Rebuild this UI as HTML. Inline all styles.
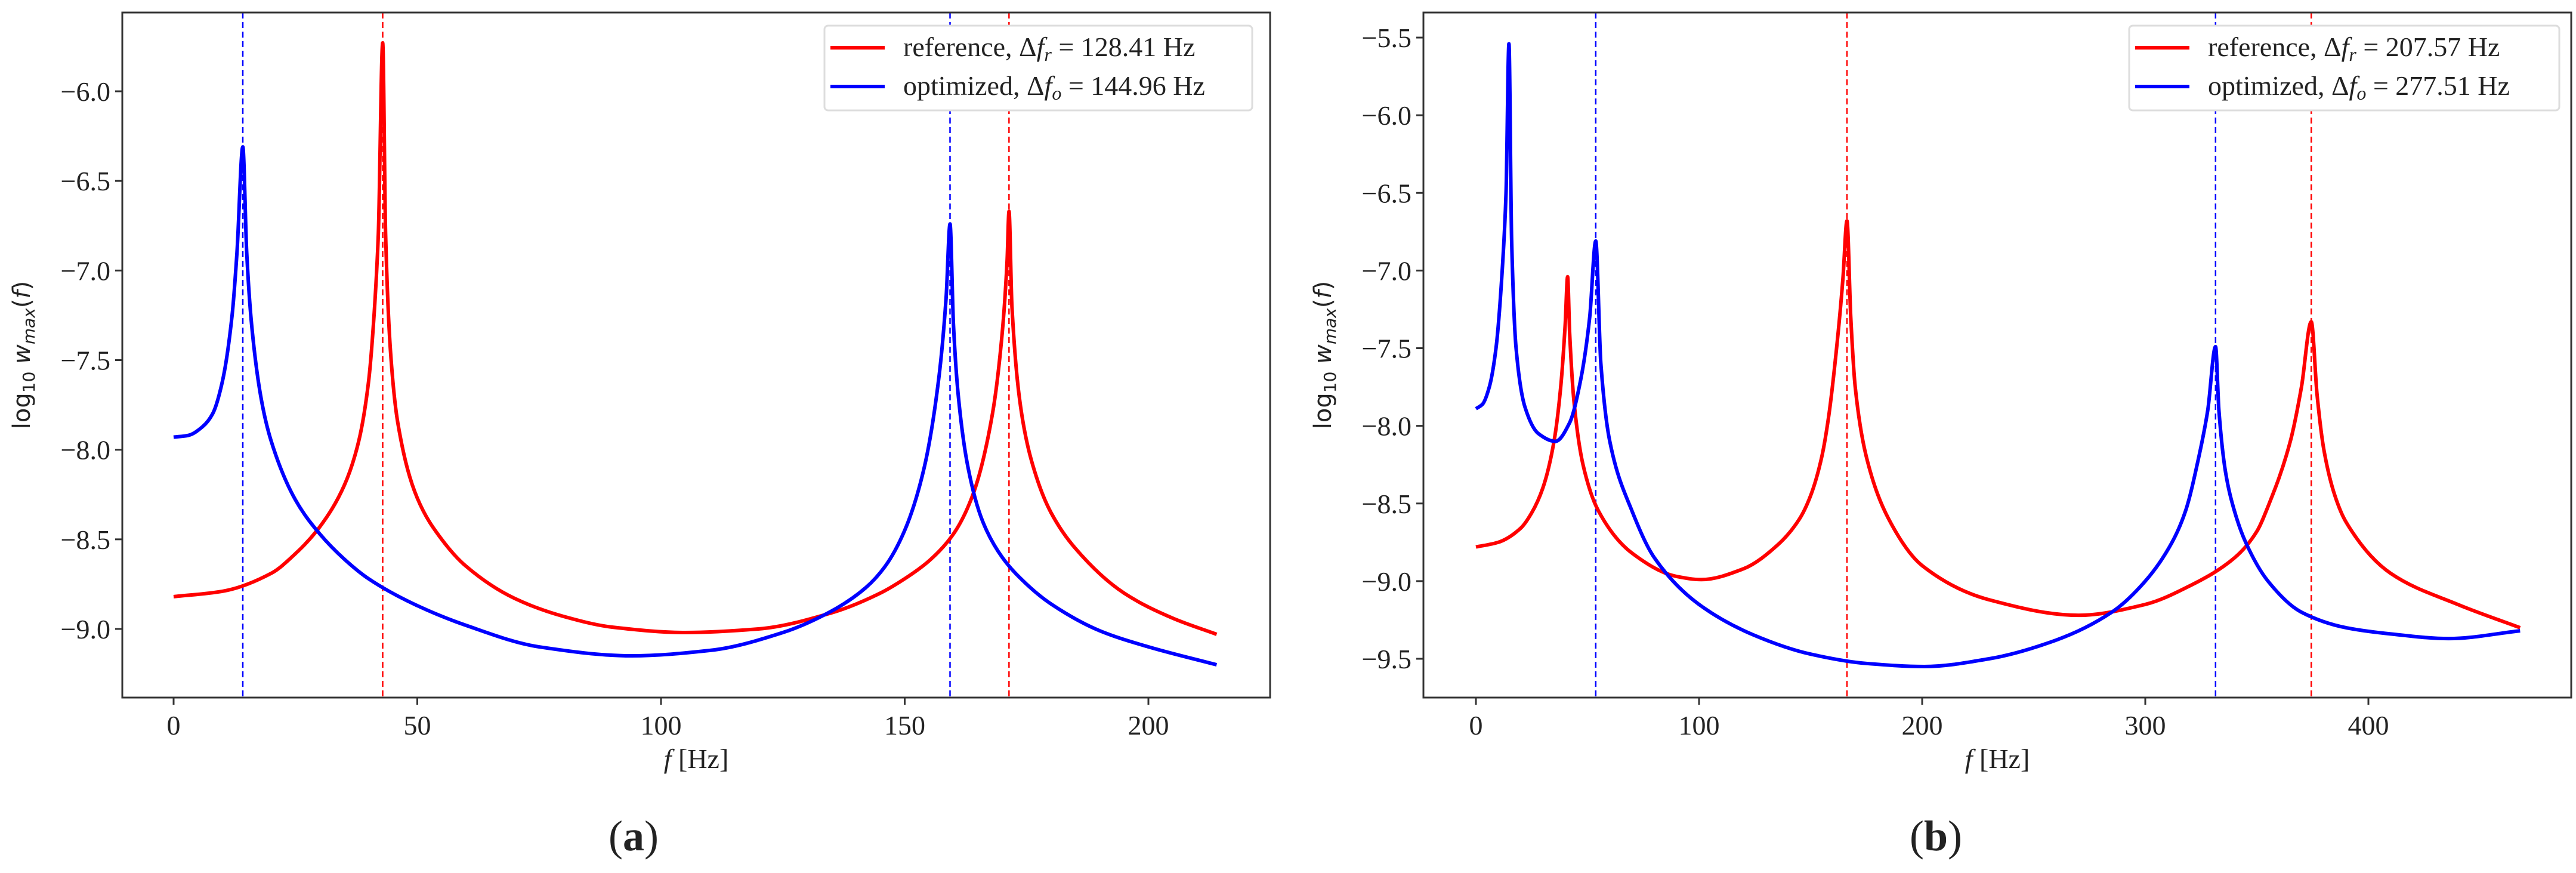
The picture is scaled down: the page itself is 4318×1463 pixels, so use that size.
<!DOCTYPE html>
<html><head><meta charset="utf-8"><style>
html,body{margin:0;padding:0;background:#fff;}
svg{display:block;}
text{font-family:"Liberation Serif",serif;fill:#222;}
.sans{font-family:"DejaVu Sans","Liberation Sans",sans-serif;}
</style></head><body>
<svg id="fig" width="4318" height="1463" viewBox="0 0 4318 1463" xmlns="http://www.w3.org/2000/svg"></svg>
<script>
// Panel (a) data
const aRefF = [0,10,20,25,30,35,38,40,41,42,42.9,43.5,44.5,46,50,55,60,70,80,90,105,120,135,145,150,155,160,164,168,170,171,171.4,172,174,177,180,185,195,205,214];
const aRefV = [-8.82,-8.79,-8.69,-8.58,-8.43,-8.2,-7.95,-7.62,-7.3,-6.8,-5.73,-6.8,-7.45,-7.85,-8.27,-8.5,-8.65,-8.83,-8.93,-8.99,-9.02,-9.0,-8.91,-8.8,-8.72,-8.62,-8.47,-8.25,-7.8,-7.35,-6.95,-6.67,-7.2,-7.8,-8.15,-8.35,-8.55,-8.8,-8.94,-9.03];
const aOptF = [0,3,6,8,10,12,13,14.2,15,16,18,20,25,30,35,40,50,60,75,94,110,125,135,142,146,150,154,157,158.5,159.3,160,161,163,166,170,175,180,190,200,214];
const aOptV = [-7.93,-7.92,-7.87,-7.8,-7.62,-7.25,-6.9,-6.31,-6.9,-7.3,-7.72,-7.95,-8.28,-8.47,-8.61,-8.72,-8.87,-8.98,-9.1,-9.15,-9.12,-9.02,-8.9,-8.77,-8.65,-8.45,-8.1,-7.6,-7.15,-6.74,-7.3,-7.7,-8.1,-8.4,-8.6,-8.75,-8.86,-9.01,-9.1,-9.2];
const aRefLines = [42.9,171.4];
const aOptLines = [14.2,159.3];
const aXTicks = [0,50,100,150,200];
const aYTicks = [-6.0,-6.5,-7.0,-7.5,-8.0,-8.5,-9.0];
const aLegend = ["reference, \u0394f", "r", " = 128.41 Hz", "optimized, \u0394f", "o", " = 144.96 Hz"];
// Panel (b) data
const bRefF = [0,10,20,25,30,35,38,40,41.1,42,44,48,55,70,90,101,120,135,145,150,155,158,162,164.5,166.3,168,170,175,185,200,230,270,300,320,340,350,355,365,370,374.4,377,380,385,390,410,440,468];
const bRefV = [-8.78,-8.75,-8.66,-8.56,-8.4,-8.1,-7.75,-7.35,-7.04,-7.4,-7.85,-8.25,-8.55,-8.82,-8.97,-8.99,-8.92,-8.77,-8.6,-8.45,-8.2,-7.95,-7.45,-7.05,-6.68,-7.3,-7.75,-8.2,-8.6,-8.9,-9.12,-9.22,-9.15,-9.03,-8.85,-8.68,-8.52,-8.1,-7.75,-7.33,-7.8,-8.15,-8.45,-8.62,-8.95,-9.15,-9.30];
const bOptF = [0,3,6,9,12,13.5,14.8,16,18,22,28,35.6,42,47,51,53.7,56,60,70,80,100,125,150,175,201,230,260,285,300,312,318,324,328,331.5,333,336,340,345,355,370,390,410,436,468];
const bOptV = [-7.89,-7.86,-7.75,-7.5,-6.95,-6.5,-5.54,-6.8,-7.5,-7.88,-8.05,-8.1,-7.98,-7.7,-7.3,-6.81,-7.6,-8.1,-8.55,-8.85,-9.15,-9.35,-9.47,-9.53,-9.55,-9.5,-9.38,-9.2,-9.0,-8.75,-8.55,-8.2,-7.9,-7.49,-7.9,-8.3,-8.55,-8.75,-9.0,-9.2,-9.3,-9.34,-9.37,-9.32];
const bRefLines = [166.3,374.4];
const bOptLines = [53.7,331.5];
const bXTicks = [0,100,200,300,400];
const bYTicks = [-5.5,-6.0,-6.5,-7.0,-7.5,-8.0,-8.5,-9.0,-9.5];
const bLegend = ["reference, \u0394f", "r", " = 207.57 Hz", "optimized, \u0394f", "o", " = 277.51 Hz"];

const NS = "http://www.w3.org/2000/svg";
const fig = document.getElementById('fig');
function mk(tag, attrs, parent){const e=document.createElementNS(NS,tag);for(const k in attrs)e.setAttribute(k,attrs[k]);(parent||fig).appendChild(e);return e;}

// monotone cubic path through screen points
function monoPath(X,Y){
  const n=X.length, d=[], m=[];
  for(let i=0;i<n-1;i++) d.push((Y[i+1]-Y[i])/(X[i+1]-X[i]));
  m[0]=d[0]; m[n-1]=d[n-2];
  for(let i=1;i<n-1;i++){ if(d[i-1]*d[i]<=0) m[i]=0; else { const h0=X[i]-X[i-1], h1=X[i+1]-X[i]; m[i]=3*(h0+h1)/((2*h1+h0)/d[i-1]+(h1+2*h0)/d[i]); } }
  let s='M'+X[0]+','+Y[0];
  for(let i=0;i<n-1;i++){const h=(X[i+1]-X[i])/3; s+=' C'+(X[i]+h)+','+(Y[i]+m[i]*h)+' '+(X[i+1]-h)+','+(Y[i+1]-m[i+1]*h)+' '+X[i+1]+','+Y[i+1];}
  return s;
}

function panel(cfg){
  const g = mk('g',{});
  
  
  const sx = f => cfg.x0 + (f - cfg.f0) * cfg.kx;
  const sy = v => cfg.y0 + (v - cfg.v0) * cfg.ky;
  const L=cfg.box[0],T=cfg.box[1],R=cfg.box[2],B=cfg.box[3];
  function vl(arr,col,nm){arr.forEach(f=>{const l=mk('line',{x1:sx(f),x2:sx(f),y1:T,y2:B,stroke:col,'stroke-width':2.5,'stroke-dasharray':'10,6'},g);
    
    });}
  vl(cfg.optLines,'#0000ff','optimized-resonance-line');
  vl(cfg.refLines,'#ff0000','reference-resonance-line');
  function curve(F,V,col,nm){const p=mk('path',{d:monoPath(F.map(sx),V.map(sy)),fill:'none',stroke:col,'stroke-width':6,'stroke-linejoin':'round'},g);
    
    }
  curve(cfg.refF,cfg.refV,'#ff0000','reference-curve');
  curve(cfg.optF,cfg.optV,'#0000ff','optimized-curve');
  const fr=mk('rect',{x:L,y:T,width:R-L,height:B-T,fill:'none',stroke:'#333','stroke-width':3},g);
  
  
  cfg.xt.forEach(t=>{mk('line',{x1:sx(t),x2:sx(t),y1:B,y2:B+12,stroke:'#333','stroke-width':3},g);
    const tx=mk('text',{x:sx(t),y:B+62,'font-size':46,'text-anchor':'middle'},g);tx.textContent=String(t);
    
    });
  cfg.yt.forEach(t=>{mk('line',{x1:L-12,x2:L,y1:sy(t),y2:sy(t),stroke:'#333','stroke-width':3},g);
    const tx=mk('text',{x:L-20,y:sy(t)+16,'font-size':46,'text-anchor':'end'},g);tx.textContent='\u2212'+Math.abs(t).toFixed(1);
    
    });
  const xl=mk('text',{x:(L+R)/2,y:B+118,'font-size':46,'text-anchor':'middle'},g);
  xl.innerHTML='<tspan font-style="italic">f</tspan> [Hz]';
  
  
  const yl=mk('text',{x:0,y:0,'font-size':40,'text-anchor':'middle',transform:`translate(${L-155},${(T+B)/2}) rotate(-90)`,class:'sans'},g);
  yl.innerHTML='log<tspan font-size="28" dy="8">10</tspan><tspan dy="-8"> </tspan><tspan font-style="italic">w</tspan><tspan font-size="28" dy="8" font-style="italic">max</tspan><tspan dy="-8">(</tspan><tspan font-style="italic">f</tspan>)';
  
  
  const lx=cfg.leg[0], ly=cfg.leg[1];
  const lg=mk('g',{},g);
  
  
  mk('rect',{x:lx,y:ly,width:cfg.leg[2],height:142,rx:6,fill:'#fff',stroke:'#ddd','stroke-width':3},lg);
  [['#ff0000',0],['#0000ff',3]].forEach((e,i)=>{
    const yy=ly+37+i*65;
    mk('line',{x1:lx+10,x2:lx+101,y1:yy,y2:yy,stroke:e[0],'stroke-width':6},lg);
    const t=mk('text',{x:lx+132,y:yy+14,'font-size':46},lg);
    t.innerHTML=cfg.legend[e[1]].replace('\u0394f','\u0394<tspan font-style="italic">f</tspan>')+'<tspan font-size="32" dy="8" font-style="italic">'+cfg.legend[e[1]+1]+'</tspan><tspan dy="-8">'+cfg.legend[e[1]+2]+'</tspan>';
    
    
  });
  const cap=mk('text',{x:cfg.capX,y:1425,'font-size':72,'text-anchor':'middle'},g);
  cap.innerHTML='(<tspan font-weight="bold">'+cfg.cap+'</tspan>)';
  
  
}

panel({name:'panel-a',box:[205,21,2129,1169],x0:291,f0:0,kx:(1925-291)/200,y0:153,v0:-6.0,ky:(1054-153)/-3,
  refF:aRefF,refV:aRefV,optF:aOptF,optV:aOptV,refLines:aRefLines,optLines:aOptLines,xt:aXTicks,yt:aYTicks,
  legend:aLegend,leg:[1382,43,717],capX:1062,cap:'a'});
panel({name:'panel-b',box:[2386,21,4310,1169],x0:2474,f0:0,kx:(3970-2474)/400,y0:63,v0:-5.5,ky:(1104-63)/-4,
  refF:bRefF,refV:bRefV,optF:bOptF,optV:bOptV,refLines:bRefLines,optLines:bOptLines,xt:bXTicks,yt:bYTicks,
  legend:bLegend,leg:[3569,43,721],capX:3245,cap:'b'});
</script>
</body></html>
